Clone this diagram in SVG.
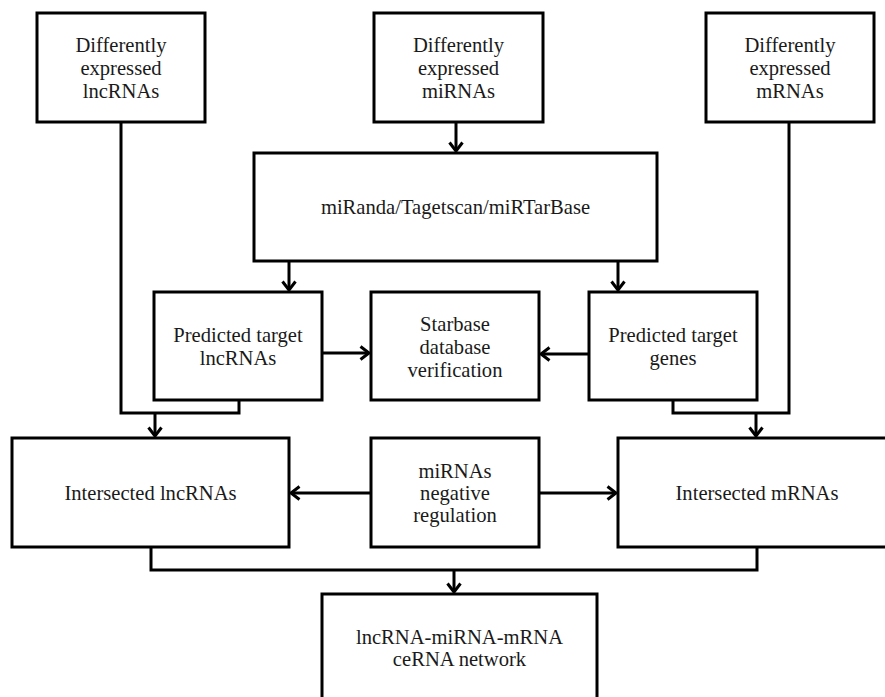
<svg xmlns="http://www.w3.org/2000/svg" width="885" height="697" viewBox="0 0 885 697">
<defs>
<style>
.box{fill:#fff;stroke:#000;stroke-width:3}
.t{font-family:"Liberation Serif","Times New Roman",serif;font-size:20.6px;fill:#1a1a1a;text-anchor:middle}
.c{fill:none;stroke:#000;stroke-width:3}
.a{fill:none;stroke:#000;stroke-width:3;marker-end:url(#arr)}
</style>
<marker id="arr" markerUnits="userSpaceOnUse" markerWidth="20" markerHeight="20" refX="10" refY="10" orient="auto" overflow="visible">
<path d="M1.5,3.5 L10,10 L1.5,16.5" fill="none" stroke="#000" stroke-width="3"/>
</marker>
</defs>
<rect width="885" height="697" fill="#fff"/>
<g id="connectors">
<polyline class="c" points="121,122 121,413 239,413 239,400"/>
<line class="a" x1="155" y1="413" x2="155" y2="436"/>
<polyline class="c" points="789,122 789,413 673,413 673,400"/>
<line class="a" x1="756" y1="413" x2="756" y2="436"/>
<line class="a" x1="456" y1="122" x2="456" y2="151"/>
<line class="a" x1="289" y1="261" x2="289" y2="290"/>
<line class="a" x1="618" y1="261" x2="618" y2="290"/>
<line class="a" x1="322" y1="353" x2="369" y2="353"/>
<line class="a" x1="589" y1="354" x2="541" y2="354"/>
<line class="a" x1="371" y1="493" x2="291" y2="493"/>
<line class="a" x1="539" y1="493" x2="616" y2="493"/>
<polyline class="c" points="151,547 151,570 757,570 757,547"/>
<line class="a" x1="454" y1="570" x2="454" y2="592"/>
</g>
<g id="de-lncrnas">
<rect class="box" x="37" y="13" width="168" height="109"/>
<text class="t" x="121" y="52">Differently</text>
<text class="t" x="121" y="75">expressed</text>
<text class="t" x="121" y="98">lncRNAs</text>
</g>
<g id="de-mirnas">
<rect class="box" x="374" y="13" width="169" height="109"/>
<text class="t" x="458.5" y="52">Differently</text>
<text class="t" x="458.5" y="75">expressed</text>
<text class="t" x="458.5" y="98">miRNAs</text>
</g>
<g id="de-mrnas">
<rect class="box" x="706" y="13" width="168" height="109"/>
<text class="t" x="790" y="52">Differently</text>
<text class="t" x="790" y="75">expressed</text>
<text class="t" x="790" y="98">mRNAs</text>
</g>
<g id="miranda">
<rect class="box" x="254" y="153" width="403" height="108"/>
<text class="t" x="455.5" y="214">miRanda/Tagetscan/miRTarBase</text>
</g>
<g id="pred-lncrnas">
<rect class="box" x="154" y="292" width="168" height="108"/>
<text class="t" x="238" y="342">Predicted target</text>
<text class="t" x="238" y="365">lncRNAs</text>
</g>
<g id="starbase">
<rect class="box" x="371" y="292" width="168" height="108"/>
<text class="t" x="455" y="331">Starbase</text>
<text class="t" x="455" y="354">database</text>
<text class="t" x="455" y="377">verification</text>
</g>
<g id="pred-genes">
<rect class="box" x="589" y="292" width="168" height="108"/>
<text class="t" x="673" y="342">Predicted target</text>
<text class="t" x="673" y="365">genes</text>
</g>
<g id="int-lncrnas">
<rect class="box" x="12" y="438" width="277" height="109"/>
<text class="t" x="150.5" y="500">Intersected lncRNAs</text>
</g>
<g id="mirna-neg">
<rect class="box" x="371" y="438" width="168" height="109"/>
<text class="t" x="455" y="478">miRNAs</text>
<text class="t" x="455" y="500">negative</text>
<text class="t" x="455" y="522">regulation</text>
</g>
<g id="int-mrnas">
<rect class="box" x="618" y="438" width="278" height="109"/>
<text class="t" x="757" y="500">Intersected mRNAs</text>
</g>
<g id="cerna">
<rect class="box" x="322" y="594" width="275" height="109"/>
<text class="t" x="459.5" y="644">lncRNA-miRNA-mRNA</text>
<text class="t" x="459.5" y="666">ceRNA network</text>
</g>
</svg>
